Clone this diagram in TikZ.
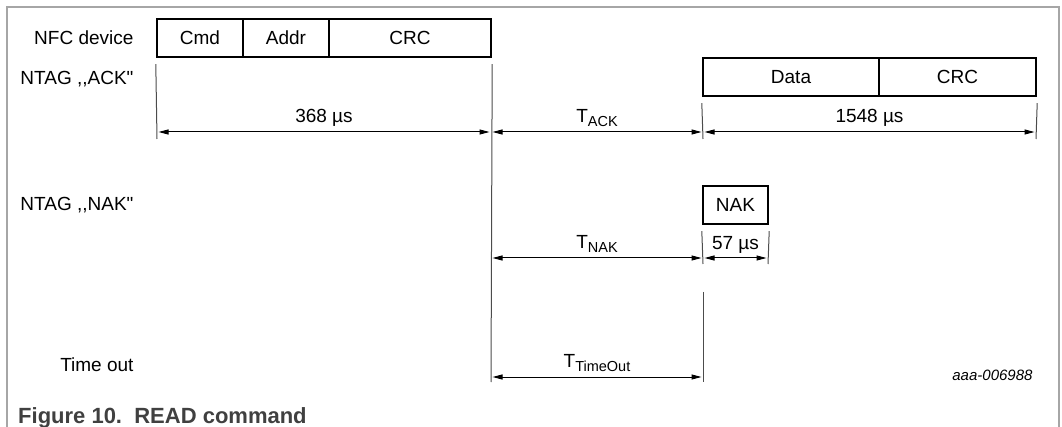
\documentclass[tikz,border=0pt]{standalone}
\usepackage{fontspec}
\setmainfont{Liberation Sans}
\newfontfamily\plainsf{Liberation Sans}
\usetikzlibrary{arrows.meta}

\newcommand{\tsub}[1]{\raisebox{-0.35ex}{\fontsize{14.5}{15}\selectfont #1}}

\begin{document}
\begin{tikzpicture}[x=1pt,y=-1pt,
  font=\fontsize{19}{22}\selectfont,
  pkt/.style={draw,line width=2.4pt,minimum height=38pt,inner sep=0pt},
  lbl/.style={anchor=east,font=\plainsf\fontsize{19}{22}\selectfont},
  ext/.style={draw=black!70,line width=1pt},
  dim/.style={{Triangle[length=10pt,width=5pt]}-{Triangle[length=10pt,width=5pt]},line width=1pt,shorten <=1.5pt,shorten >=1.5pt},
  frame/.style={draw=black!35,line width=1.5pt}]

\useasboundingbox (0,0) rectangle (1062,427);
\draw[frame] (7,427) -- (7,7) -- (1059,7) -- (1059,427);

% row labels
\node[lbl] (nfc)  at (137,38)  {NFC device};
\node[lbl] (ack)  at (137,79)  {NTAG ,,ACK"};
\node[lbl] (nak)  at (137,205) {NTAG ,,NAK"};
\node[lbl] (tout) at (137,365) {Time out};

% frames
\node[pkt,minimum width=86pt]  (cmd)    at (200,38)    {Cmd};
\node[pkt,minimum width=86pt]  (addr)   at (286,38)    {Addr};
\node[pkt,minimum width=162pt] (crc)    at (410,38)    {CRC};
\node[pkt,minimum width=176pt] (data)   at (791,77)    {Data};
\node[pkt,minimum width=157pt] (crcb)   at (957.5,77)  {CRC};
\node[pkt,minimum width=65pt]  (nakbox) at (735.5,205) {NAK};

% ends of the extension lines
\coordinate (a0) at (157,139);
\coordinate (a1) at (491,382);
\coordinate (a2) at (703,139);
\coordinate (a3) at (1036,139);
\coordinate (b0) at (703,264);
\coordinate (b1) at (768,264);
\coordinate (c0) at (703,292);
\coordinate (c1) at (703,382);
\coordinate (r1) at (0,132);
\coordinate (r2) at (0,258);
\coordinate (r3) at (0,377);

\draw[ext] ([yshift=-6pt]cmd.south west) -- (a0);
\draw[ext] ([yshift=-6pt]crc.south east) -- (a1);
\draw[ext] ([yshift=-6pt]data.south west) -- (a2);
\draw[ext] ([yshift=-6pt]crcb.south east) -- (a3);
\draw[ext] ([yshift=-6pt]nakbox.south west) -- (b0);
\draw[ext] ([yshift=-6pt]nakbox.south east) -- (b1);
\draw[ext] (c0) -- (c1);

% timings
\draw[dim] (a0 |- r1) -- (a1 |- r1) node[midway,above=2pt] {368 µs};
\draw[dim] (a1 |- r1) -- (a2 |- r1) node[midway,above=2pt] {T\tsub{ACK}};
\draw[dim] (a2 |- r1) -- (a3 |- r1) node[midway,above=2pt] {1548 µs};
\draw[dim] (a1 |- r2) -- (b0 |- r2) node[midway,above=2pt] {T\tsub{NAK}};
\draw[dim] (b0 |- r2) -- (b1 |- r2) node[midway,above=1pt] {57 µs};
\draw[dim] (a1 |- r3) -- (c1 |- r3) node[midway,above=2pt] {T\tsub{TimeOut}};

\node[anchor=east,font=\itshape\fontsize{15}{18}\selectfont] (fig) at (1036,375) {aaa-006988};
\node[anchor=base west,inner sep=0pt,text=black!75,font=\bfseries\fontsize{22}{26}\selectfont] (cap) at (18,423) {Figure 10.\ \ READ command};

\end{tikzpicture}
\end{document}
